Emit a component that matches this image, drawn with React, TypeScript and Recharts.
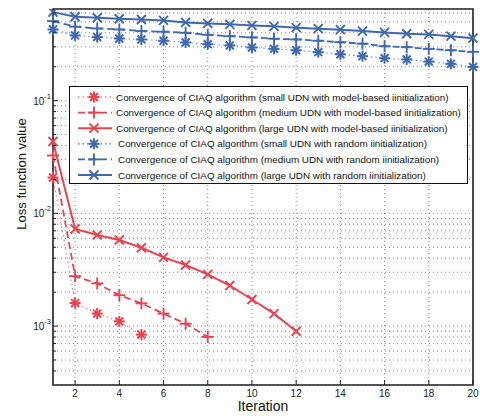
import { LineChart, Line, XAxis, YAxis, CartesianGrid, ReferenceArea, Legend } from "recharts";

const iterations = [1, 2, 3, 4, 5, 6, 7, 8, 9, 10, 11, 12, 13, 14, 15, 16, 17, 18, 19, 20];

// model-based initialization (red)
const smallModel = [0.0208, 0.0016, 0.00129, 0.0011, 0.00084];
const mediumModel = [0.0326, 0.00277, 0.00239, 0.00188, 0.00159, 0.00129, 0.00105, 0.0008];
const largeModel = [
  0.0434, 0.00726, 0.00642, 0.0058, 0.00495, 0.00407, 0.00348, 0.00287, 0.00229, 0.00172, 0.00129,
  0.000899,
];

// random initialization (blue)
const smallRandom = [
  0.428, 0.379, 0.366, 0.356, 0.349, 0.34, 0.328, 0.317, 0.309, 0.296, 0.288, 0.28, 0.269, 0.258,
  0.248, 0.238, 0.232, 0.222, 0.212, 0.199,
];
const mediumRandom = [
  0.508, 0.453, 0.437, 0.428, 0.414, 0.409, 0.4, 0.384, 0.373, 0.364, 0.354, 0.349, 0.34, 0.33, 0.32,
  0.304, 0.298, 0.288, 0.28, 0.271,
];
const largeRandom = [
  0.61, 0.555, 0.544, 0.533, 0.525, 0.515, 0.494, 0.484, 0.475, 0.465, 0.456, 0.444, 0.435, 0.426,
  0.414, 0.403, 0.392, 0.387, 0.373, 0.358,
];

const xTicks = [2, 4, 6, 8, 10, 12, 14, 16, 18, 20];
const yDomain = [3e-4, 0.65];

const RED = "#e8434f";
const BLUE = "#3f68b2";
const FONT = "'Liberation Sans', Arial, Helvetica, sans-serif";

type Shape = "star" | "plus" | "cross";

const series = [
  { key: "smallModel", color: RED, shape: "star" as Shape, dash: "1.5 3", width: 1.2, label: "Convergence of CIAQ algorithm (small UDN with model-based iinitialization)" },
  { key: "mediumModel", color: RED, shape: "plus" as Shape, dash: "7 4", width: 1.8, label: "Convergence of CIAQ algorithm (medium UDN with model-based iinitialization)" },
  { key: "largeModel", color: RED, shape: "cross" as Shape, dash: undefined, width: 2, label: "Convergence of CIAQ algorithm (large UDN with model-based iinitialization)" },
  { key: "smallRandom", color: BLUE, shape: "star" as Shape, dash: "1.5 3", width: 1.2, label: "Convergence of CIAQ algorithm (small UDN with random iinitialization)" },
  { key: "mediumRandom", color: BLUE, shape: "plus" as Shape, dash: "7 4", width: 1.8, label: "Convergence of CIAQ algorithm (medium UDN with random iinitialization)" },
  { key: "largeRandom", color: BLUE, shape: "cross" as Shape, dash: undefined, width: 2, label: "Convergence of CIAQ algorithm (large UDN with random iinitialization)" },
];

const data = iterations.map((it, i) => ({
  it,
  smallModel: smallModel[i],
  mediumModel: mediumModel[i],
  largeModel: largeModel[i],
  smallRandom: smallRandom[i],
  mediumRandom: mediumRandom[i],
  largeRandom: largeRandom[i],
}));

// minor log ticks 1..9 x 10^d inside the domain
const yTicks: number[] = [];
for (let d = -4; d <= -1; d++) {
  for (let m = 1; m <= 9; m++) {
    const v = Number((m * Math.pow(10, d)).toPrecision(6));
    if (v >= yDomain[0] * 1.0001 && v <= yDomain[1]) yTicks.push(v);
  }
}

function Marker({ shape, cx, cy, color }: { shape: Shape; cx: number; cy: number; color: string }) {
  if (shape === "plus") {
    const r = 6;
    return (
      <g stroke={color} strokeWidth={1.9}>
        <line x1={cx - r} x2={cx + r} y1={cy} y2={cy} />
        <line x1={cx} x2={cx} y1={cy - r} y2={cy + r} />
      </g>
    );
  }
  if (shape === "cross") {
    const r = 4.5;
    return (
      <g stroke={color} strokeWidth={1.9}>
        <line x1={cx - r} x2={cx + r} y1={cy - r} y2={cy + r} />
        <line x1={cx - r} x2={cx + r} y1={cy + r} y2={cy - r} />
      </g>
    );
  }
  const r = 5.5;
  const d = r * 0.72;
  return (
    <g stroke={color} strokeWidth={2}>
      <line x1={cx - r} x2={cx + r} y1={cy} y2={cy} />
      <line x1={cx} x2={cx} y1={cy - r} y2={cy + r} />
      <line x1={cx - d} x2={cx + d} y1={cy - d} y2={cy + d} />
      <line x1={cx - d} x2={cx + d} y1={cy + d} y2={cy - d} />
    </g>
  );
}

function YTick(props: any) {
  const { x, y, payload } = props;
  const lg = Math.log10(payload.value);
  const major = Math.abs(lg - Math.round(lg)) < 1e-6;
  return (
    <g>
      <line x1={x} x2={x + (major ? 5 : 3)} y1={y} y2={y} stroke="#222" />
      {major && (
        <text x={x - 2} y={y + 4} textAnchor="end" fontSize={10} fill="#222" fontFamily={FONT}>
          <tspan>10</tspan>
          <tspan dy={-6} fontSize={7.5}>{`-${-Math.round(lg)}`}</tspan>
        </text>
      )}
    </g>
  );
}

function XTick(props: any) {
  const { x, y, payload } = props;
  return (
    <g>
      <line x1={x} x2={x} y1={y} y2={y - 5} stroke="#222" />
      <text x={x} y={y + 12} textAnchor="middle" fontSize={10} fill="#222" fontFamily={FONT}>
        {payload.value}
      </text>
    </g>
  );
}

function LegendBox() {
  const rowH = 15.6;
  return (
    <div style={{ border: "1px solid #111", background: "#fff", height: 96 }}>
      <svg width={397} height={96} style={{ display: "block" }}>
        {series.map((s, i) => {
          const cy = 10 + i * rowH;
          return (
            <g key={s.key}>
              <line x1={8} x2={42} y1={cy} y2={cy} stroke={s.color} strokeWidth={s.width} strokeDasharray={s.dash} />
              <Marker shape={s.shape} cx={24} cy={cy} color={s.color} />
              <text x={i < 3 ? 46 : 48} y={cy + 3.5} fontSize={9.9} fill="#111" fontFamily={FONT}>
                {s.label}
              </text>
            </g>
          );
        })}
      </svg>
    </div>
  );
}

export default function App() {
  return (
    <div style={{ position: "absolute", left: 0, top: 0, background: "#fff", fontFamily: FONT }}>
      <LineChart width={480} height={416} data={data} margin={{ top: 9, right: 7, bottom: 0, left: 0 }}>
        <CartesianGrid stroke="#666" strokeDasharray="1 3" strokeWidth={0.8} />
        <XAxis
          dataKey="it"
          type="number"
          domain={[1, 20]}
          ticks={xTicks}
          interval={0}
          height={31}
          axisLine={false}
          tickLine={false}
          tickSize={0}
          tickMargin={0}
          tick={<XTick />}
          label={{
            content: ({ viewBox }: any) => (
              <text
                x={viewBox.x + viewBox.width / 2}
                y={viewBox.y + 26}
                textAnchor="middle"
                fontSize={14}
                fill="#111"
                fontFamily={FONT}
              >
                Iteration
              </text>
            ),
          }}
        />
        <YAxis
          type="number"
          scale="log"
          domain={yDomain}
          allowDataOverflow
          ticks={yTicks}
          interval={0}
          width={53}
          axisLine={false}
          tickLine={false}
          tickSize={0}
          tickMargin={0}
          tick={<YTick />}
          label={{
            content: ({ viewBox }: any) => {
              const cx = viewBox.x + 21;
              const cy = viewBox.y + viewBox.height / 2 - 23;
              return (
                <text
                  x={cx}
                  y={cy}
                  transform={`rotate(-90 ${cx} ${cy})`}
                  textAnchor="middle"
                  dominantBaseline="central"
                  fontSize={13}
                  fill="#111"
                  fontFamily={FONT}
                >
                  Loss function value
                </text>
              );
            },
          }}
        />
        <ReferenceArea
          x1={1}
          x2={20}
          y1={yDomain[0]}
          y2={yDomain[1]}
          fill="none"
          fillOpacity={0}
          stroke="#222"
          strokeWidth={1.6}
        />
        {series.map((s) => (
          <Line
            key={s.key}
            dataKey={s.key}
            stroke={s.color}
            strokeWidth={s.width}
            strokeDasharray={s.dash}
            strokeOpacity={s.shape === "star" ? 0.7 : 1}
            isAnimationActive={false}
            connectNulls={false}
            activeDot={false}
            dot={(p: any) =>
              p.cx == null || p.cy == null || p.value == null ? (
                <g key={`${s.key}-${p.index}`} />
              ) : (
                <Marker key={`${s.key}-${p.index}`} shape={s.shape} cx={p.cx} cy={p.cy} color={s.color} />
              )
            }
          />
        ))}
        <Legend
          layout="vertical"
          align="center"
          verticalAlign="middle"
          wrapperStyle={{ left: 69, top: 86, width: 399 }}
          content={() => <LegendBox />}
        />
      </LineChart>
    </div>
  );
}
